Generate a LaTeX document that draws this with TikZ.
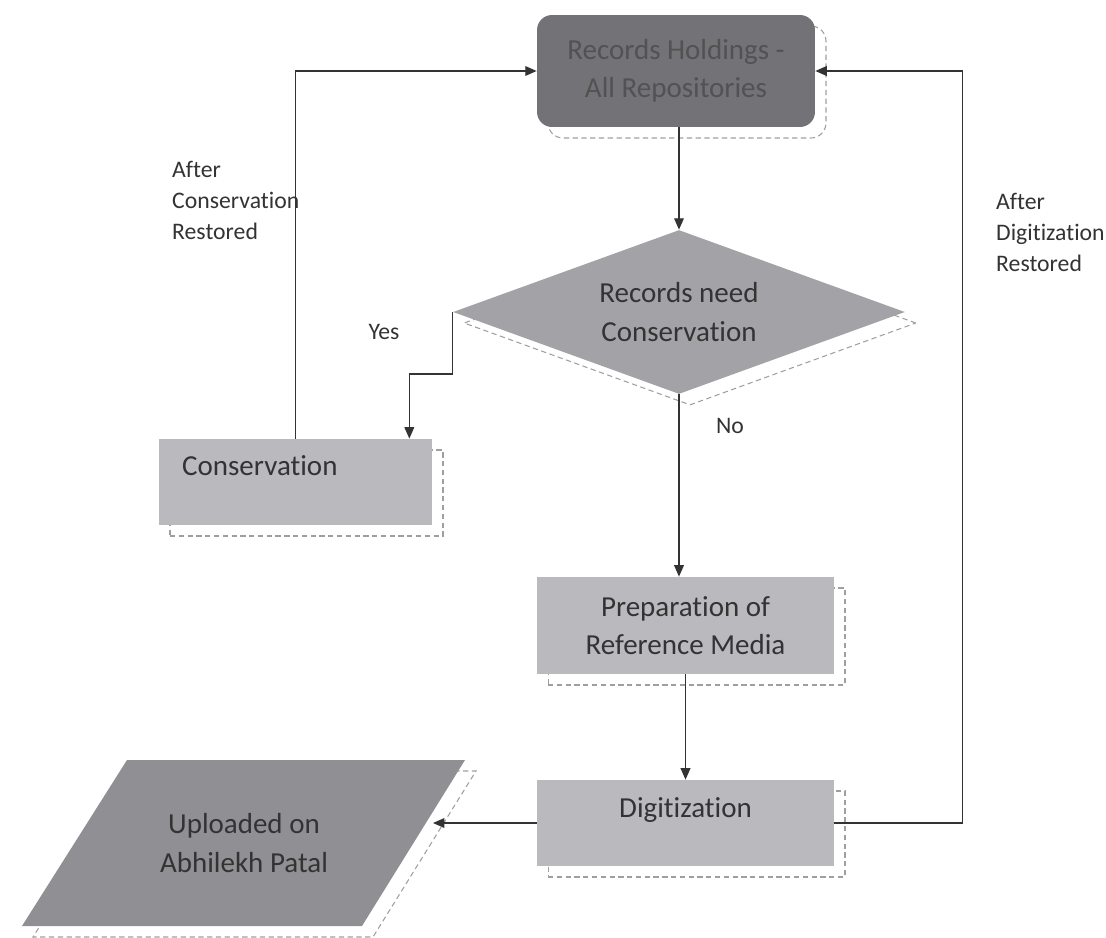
\documentclass[tikz,border=0pt]{standalone}
\usepackage{fontspec}
\setmainfont{Carlito}[Ligatures=NoCommon]
\usetikzlibrary{shapes.geometric,arrows.meta,shadows,calc}
\definecolor{holdgrey}{HTML}{737377}
\definecolor{askgrey}{HTML}{A3A3A7}
\definecolor{stepgrey}{HTML}{B9B9BE}
\definecolor{upgrey}{HTML}{909094}
\definecolor{inkgrey}{HTML}{333333}

\begin{document}
\begin{tikzpicture}[x=0.02cm,y=-0.02cm,
  boxtext/.style={text=inkgrey,font=\fontsize{16.5}{21.8}\selectfont,align=center},
  note/.style={text=inkgrey,font=\fontsize{13.5}{17.9}\selectfont,align=left},
  shadowline/.style={fill=none,draw=gray!75,densely dashed,line width=0.6pt},
  dashshadow/.style={general shadow={shadow xshift=0.22cm,shadow yshift=-0.22cm,shadowline}},
  stepbox/.style={rectangle,fill=stepgrey,boxtext,dashshadow,inner sep=0pt},
  link/.style={draw=inkgrey,line width=0.8pt,-{Triangle[length=6.5pt,width=5.5pt]}}]
\useasboundingbox (0,0) rectangle (1106,937);

\node[stepbox,fill=holdgrey,rounded corners=0.3cm,text=black!68,
  minimum width=5.56cm,minimum height=2.24cm] (hold) at (676,71) {Records Holdings -\\All Repositories};

\node[shape=diamond,shape aspect=2.75,fill=askgrey,boxtext,dashshadow,inner sep=0pt,
  minimum width=9.04cm,minimum height=3.28cm] (need) at (679,312) {Records need\\Conservation};

\node[stepbox,minimum width=5.46cm,minimum height=1.72cm] (cons) at (295.5,482) {};
\node[boxtext,anchor=base west] (constext) at (176,475) {Conservation};

\node[stepbox,minimum width=5.94cm,minimum height=1.94cm] (prep) at (685.5,625.5) {Preparation of\\Reference Media};

\node[stepbox,minimum width=5.94cm,minimum height=1.72cm] (digit) at (685.5,823) {};
\node[boxtext,anchor=base] (digittext) at (685.5,817) {Digitization};

\draw[shadowline] (138,771) -- (476,771) -- (373,937) -- (33,937) -- cycle;
\fill[upgrey] (127,760) -- (465,760) -- (362,926) -- (22,926) -- cycle;
\node[boxtext] (upl) at (244,843) {Uploaded on\\Abhilekh Patal};
\coordinate (uplin) at (433,823);

\node[note,anchor=west] (consnote) at (166,200.5) {After\\Conservation\\Restored};
\node[note,anchor=west] (dignote) at (990,232.5) {After\\Digitization\\Restored};
\node[note] (yes) at (384,332) {Yes};
\node[note] (no) at (730,426) {No};

\draw[link] (need.north |- hold.south) -- (need.north);
\draw[link] (need.west) -- ++(0,62) -| ($(cons.north east)+(-23,0)$);
\draw[link] (need.south) -- (need.south |- prep.north);
\draw[link] (prep.south) -- (digit.north);
\draw[link] (cons.north) |- (hold.west);
\draw[link] (digit.east) -- ++(128,0) |- (hold.east);
\draw[link] (digit.west) -- (uplin);
\end{tikzpicture}
\end{document}
